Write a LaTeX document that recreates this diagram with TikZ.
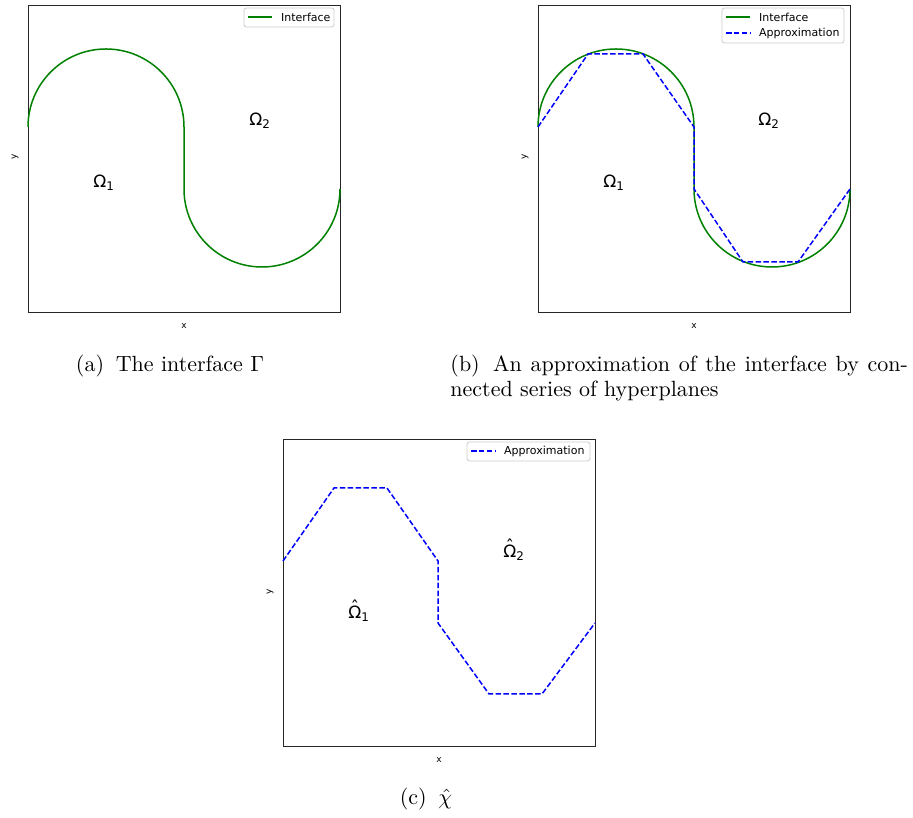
\documentclass[tikz,border=0pt]{standalone}
\usepackage{fontspec}
\newfontfamily\plotfont{DejaVu Sans}
\definecolor{mplgreen}{HTML}{008000}
\definecolor{mplblue}{HTML}{0000FF}
\newcommand{\hatom}{\ooalign{Ω\cr\hidewidth\raisebox{0.33em}{ˆ}\hidewidth\cr}}
\tikzset{
  frame/.style={line width=0.9pt, draw=black!85},
  iface/.style={line width=1.5pt, draw=mplgreen},
  approx/.style={line width=1.5pt, draw=mplblue, dash pattern=on 5.5pt off 2.4pt},
  legbox/.style={line width=0.8pt, draw=black!20, fill=white, rounded corners=2.5pt},
  legtext/.style={anchor=west, inner sep=0pt, font=\plotfont\fontsize{11}{13}\selectfont},
  region/.style={inner sep=0pt, font=\plotfont\fontsize{17}{20}\selectfont},
  axlabel/.style={inner sep=0pt, font=\plotfont\fontsize{9}{11}\selectfont},
  capt/.style={inner sep=0pt, scale=2.2, font=\fontsize{10}{12}\selectfont}
}
\begin{document}
\begin{tikzpicture}[x=1pt, y=1pt]
  \useasboundingbox (0,0) rectangle (913,818);

  % (a) antarmuka
  \begin{scope}[shift={(28,506)}]
    \coordinate (Aa) at (0,0);
    \coordinate (Ca) at (312,307);
    \draw[frame] (Aa) rectangle (Ca);
    \draw[iface] (0,185) arc (180:0:78) -- (156,123) arc (180:360:78);
    \node[region] (oma1) at (76,129) {Ω\textsubscript{1}};
    \node[region] (oma2) at (232,191) {Ω\textsubscript{2}};
    % legenda
    \draw[legbox] (216,285) rectangle (306,304);
    \draw[iface] (220,295) -- (244,295);
    \node[legtext] (lega1) at (253,295) {Interface};
    % sumbu
    \node[axlabel, rotate=90] (ya) at (-13,155) {y};
    \node[axlabel] (xa) at (156,-14) {x};
  \end{scope}

  % (b) antarmuka dan hampiran
  \begin{scope}[shift={(538,506)}]
    \coordinate (Ab) at (0,0);
    \coordinate (Cb) at (312,307);
    \draw[frame] (Ab) rectangle (Cb);
    \draw[iface] (0,185) arc (180:0:78) -- (156,123) arc (180:360:78);
    \draw[approx] (0,185) -- (50,258) -- (105,258) -- (156,185) -- (156,123)
      -- (205,50) -- (260,50) -- (312,123);
    \node[region] (omb1) at (76,129) {Ω\textsubscript{1}};
    \node[region] (omb2) at (231,191) {Ω\textsubscript{2}};
    % legenda
    \draw[legbox] (184,269) rectangle (306,304);
    \draw[iface] (188,295) -- (212,295);
    \draw[approx] (188,279) -- (212,279);
    \node[legtext] (legb1) at (221,295) {Interface};
    \node[legtext] (legb2) at (221,279) {Approximation};
    % sumbu
    \node[axlabel, rotate=90] (yb) at (-13,155) {y};
    \node[axlabel] (xb) at (156,-14) {x};
  \end{scope}

  % (c) hampiran saja
  \begin{scope}[shift={(283,72)}]
    \coordinate (Ac) at (0,0);
    \coordinate (Cc) at (312,307);
    \draw[frame] (Ac) rectangle (Cc);
    \draw[approx] (0,185) -- (51,258) -- (104,258) -- (155,185) -- (155,123)
      -- (206,52) -- (259,52) -- (312,123);
    \node[region] (omc1) at (76,132) {\hatom\textsubscript{1}};
    \node[region] (omc2) at (231,193) {\hatom\textsubscript{2}};
    % legenda
    \draw[legbox] (184,285) rectangle (307,304);
    \draw[approx] (188,295) -- (212,295);
    \node[legtext] (legc1) at (221,295) {Approximation};
    % sumbu
    \node[axlabel, rotate=90] (yc) at (-13,154) {y};
    \node[axlabel] (xc) at (156,-14) {x};
  \end{scope}

  % Keterangan
  \node[capt, anchor=base] (capa) at (170,446) {(a)\hspace{0.2em} The interface $\Gamma$};
  \node[capt, anchor=base west] (capb1) at (450,446)
    {\makebox[208pt][s]{(b)\hspace{0.2em} An approximation of the interface by con-}};
  \node[capt, anchor=base west] (capb2) at (450,421) {nected series of hyperplanes};
  \node[capt, anchor=base] (capc) at (426,13) {(c)\hspace{0.2em} $\hat{\chi}$};

\end{tikzpicture}
\end{document}
